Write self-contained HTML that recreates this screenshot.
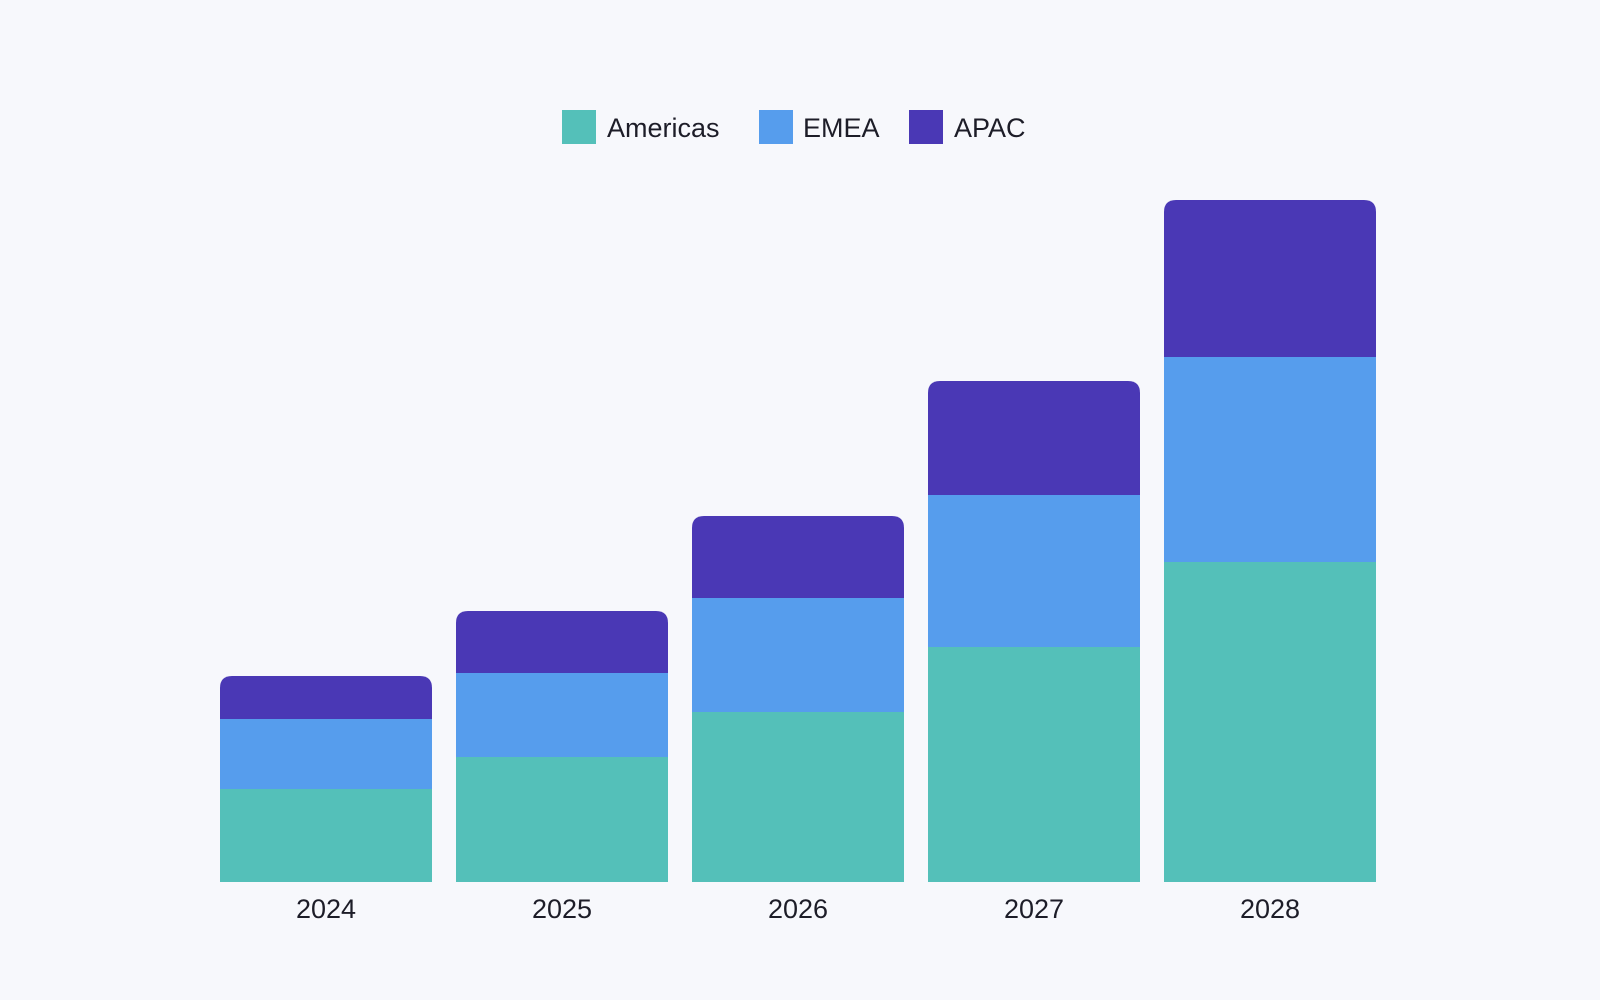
<!DOCTYPE html>
<html><head><meta charset="utf-8"><style>
body{margin:0;background:#f7f8fc;font-family:"Liberation Sans",sans-serif;}
svg{display:block}
</style></head><body>
<svg id="chart" width="1600" height="1000" viewBox="0 0 1600 1000">
<rect width="1600" height="1000" fill="#f7f8fc"/>
<g>
<g><rect x="562" y="110" width="34" height="34" fill="#54c0b9"/><text x="607" y="137" font-size="27" fill="#1d1d28">Americas</text></g>
<g><rect x="759" y="110" width="34" height="34" fill="#569ded"/><text x="803" y="137" font-size="27" fill="#1d1d28">EMEA</text></g>
<g><rect x="909" y="110" width="34" height="34" fill="#4a38b5"/><text x="954" y="137" font-size="27" fill="#1d1d28">APAC</text></g>
</g>
<g id="bars"></g>
<g id="xlabels"></g>
</svg>
<script>
const categories = ["2024","2025","2026","2027","2028"];
const americas = [9.3,12.5,17.0,23.5,32.0];
const emea = [7.0,8.4,11.4,15.2,20.5];
const apac = [4.3,6.2,8.2,11.4,15.7];
const seriesNames = ["americas","emea","apac"];
const colors = ["#54c0b9","#569ded","#4a38b5"];
const NS="http://www.w3.org/2000/svg";
const baseY=882, pxPerUnit=10, x0=220, step=236, bw=212, r=12;
function yScale(v){return baseY - v*pxPerUnit;}
function xScale(i){return x0 + i*step;}
const bars=document.getElementById('bars'), xl=document.getElementById('xlabels');
const series=[americas,emea,apac];
categories.forEach((c,i)=>{
  let cum=0;
  series.forEach((s,k)=>{
    const y1=yScale(cum), y2=yScale(cum+s[i]); cum+=s[i];
    const x=xScale(i);
    const p=document.createElementNS(NS,'path');
    let d;
    if(k===series.length-1){
      d=`M${x},${y1} L${x},${y2+r} Q${x},${y2} ${x+r},${y2} L${x+bw-r},${y2} Q${x+bw},${y2} ${x+bw},${y2+r} L${x+bw},${y1} Z`;
    } else d=`M${x},${y1} L${x},${y2} L${x+bw},${y2} L${x+bw},${y1} Z`;
    p.setAttribute('d',d);
    p.setAttribute('fill',colors[k]);
    
    
    bars.appendChild(p);
  });
  const t=document.createElementNS(NS,'text');
  t.setAttribute('x',xScale(i)+bw/2);
  t.setAttribute('y',918);
  t.setAttribute('text-anchor','middle');
  t.setAttribute('font-size','27');
  t.setAttribute('fill','#1d1d28');
  t.textContent=c;
  
  
  xl.appendChild(t);
});
</script>
</body></html>
